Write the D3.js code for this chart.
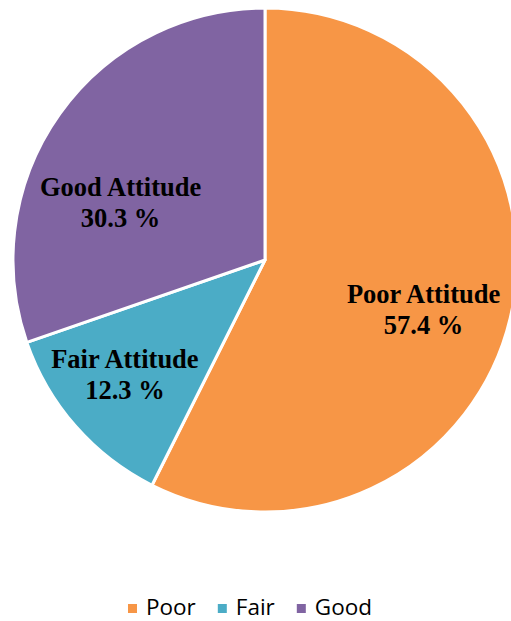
<!DOCTYPE html>
<html>
<head>
<meta charset="utf-8">
<script src="https://cdn.jsdelivr.net/npm/d3@7"></script>
<style>
  body { margin: 0; background: #fff; }
</style>
</head>
<body>
<script>
let categories = ["Poor", "Fair", "Good"];
let labels = ["Poor Attitude", "Fair Attitude", "Good Attitude"];
let values = [57.4, 12.3, 30.3];
let colors = ["#F79646", "#4BACC6", "#8064A2"];

let width = 511;
let height = 621;
let cx = 265, cy = 260, radius = 252;

// excel placed the labels by hand, so nudge them off the centroid
let nudges = [[-2, 10], [-16, 4], [-10, 37]];

let svg = d3.select("body").append("svg").attr("width", width).attr("height", height);

let pie = d3.pie().sort(null).value((d) => d);
let arcs = pie(values);

let arc = d3.arc().innerRadius(0).outerRadius(radius);
let labelArc = d3.arc().innerRadius(165).outerRadius(165);

let g = svg.append("g").attr("transform", "translate(" + cx + "," + cy + ")");

g.selectAll("path").data(arcs).enter().append("path")
    .attr("d", arc)
    .attr("fill", (d, i) => colors[i])
    .attr("stroke", "#fff")
    .attr("stroke-width", 3)
    .attr("stroke-linejoin", "round");

let lab = g.selectAll("text.lab").data(arcs).enter().append("text")
    .attr("class", "lab")
    .attr("text-anchor", "middle")
    .attr("font-family", "'Liberation Serif', 'Times New Roman', serif")
    .attr("font-weight", "bold")
    .attr("font-size", 26.5)
    .attr("fill", "#000")
    .attr("transform", (d, i) => {
        let c = labelArc.centroid(d);
        return "translate(" + (c[0] + nudges[i][0]) + "," + (c[1] + nudges[i][1]) + ")";
    });

lab.append("tspan").attr("x", 0).attr("y", -5).text((d, i) => labels[i]);
lab.append("tspan").attr("x", 0).attr("y", 26).text((d, i) => values[i].toFixed(1) + " %");

// legend
let legend = svg.append("g");
let items = legend.selectAll("g").data(categories).enter().append("g");
items.append("rect")
    .attr("width", 9).attr("height", 9)
    .attr("y", -11)
    .attr("fill", (d, i) => colors[i]);
items.append("text")
    .attr("x", 18)
    .attr("font-family", "'Open Sans', 'Liberation Sans', sans-serif")
    .attr("font-size", 22.5)
    .attr("fill", "#000")
    .text((d) => d);

let xpos = 0;
items.each(function () {
    let w = 18 + d3.select(this).select("text").node().getComputedTextLength();
    d3.select(this).attr("transform", "translate(" + xpos + ",0)");
    xpos += w + 22;
});
xpos -= 22;
legend.attr("transform", "translate(" + (250 - xpos / 2) + ",615)");
</script>
</body>
</html>
